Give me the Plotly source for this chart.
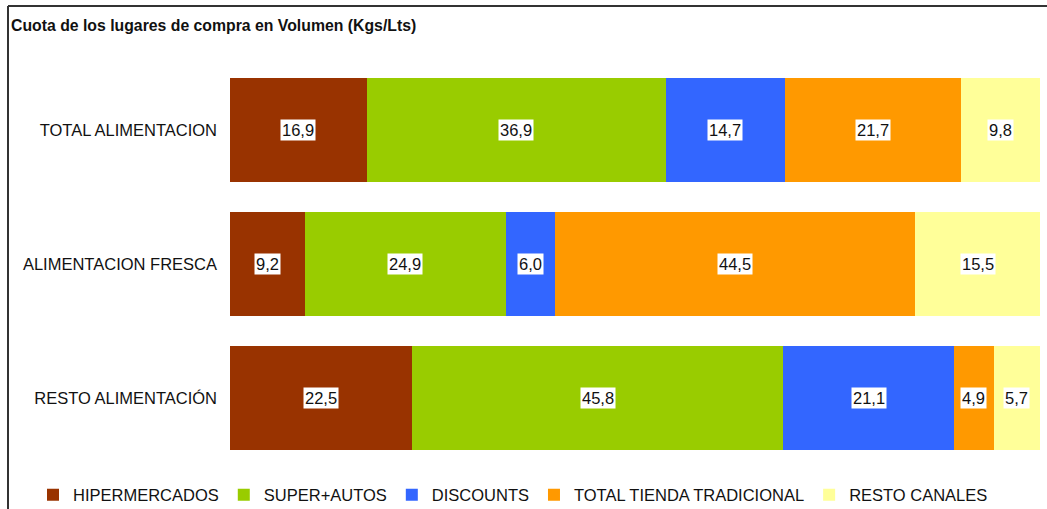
import plotly.graph_objects as go

categories = ["TOTAL ALIMENTACION", "ALIMENTACION FRESCA", "RESTO ALIMENTACIÓN"]
series_names = ["HIPERMERCADOS", "SUPER+AUTOS", "DISCOUNTS", "TOTAL TIENDA TRADICIONAL", "RESTO CANALES"]
hiper = [16.9, 9.2, 22.5]
super_autos = [36.9, 24.9, 45.8]
discounts = [14.7, 6.0, 21.1]
tradicional = [21.7, 44.5, 4.9]
resto = [9.8, 15.5, 5.7]
colors = ["#993300", "#99CC00", "#3366FF", "#FF9900", "#FFFF99"]

series = [hiper, super_autos, discounts, tradicional, resto]

W, H = 1047, 509
L, R, T, B = 230, 7, 63, 44
pw = W - L - R
ph = H - T - B
FONT = "Liberation Sans, Arial"

def px_x(px):
    return (px - L) / pw

def px_y(py):
    return (H - B - py) / ph

fig = go.Figure()
for name, vals, col in zip(series_names, series, colors):
    fig.add_trace(go.Bar(
        y=categories, x=vals, name=name, orientation="h",
        marker=dict(color=col, line=dict(width=0)),
        hoverinfo="x+name",
    ))

annotations = []
cum = [0.0] * len(categories)
for vals in series:
    for i, v in enumerate(vals):
        annotations.append(dict(
            x=cum[i] + v / 2, y=categories[i], xref="x", yref="y",
            text=f"{v:.1f}".replace(".", ","), showarrow=False,
            font=dict(family=FONT, size=16.5, color="#111111"),
            bgcolor="white", borderpad=1,
        ))
        cum[i] += v

shapes = [
    dict(type="line", xref="paper", yref="paper", x0=px_x(8), x1=px_x(1050),
         y0=px_y(6), y1=px_y(6), line=dict(color="#333333", width=2)),
    dict(type="line", xref="paper", yref="paper", x0=px_x(8), x1=px_x(8),
         y0=px_y(6), y1=px_y(512), line=dict(color="#333333", width=2)),
]

fig.update_layout(
    width=W, height=H,
    barmode="stack", bargap=0.224,
    margin=dict(l=L, r=R, t=T, b=B, autoexpand=False),
    paper_bgcolor="white", plot_bgcolor="white",
    font=dict(family=FONT, size=16.5, color="#111111"),
    title=dict(text="<b>Cuota de los lugares de compra en Volumen (Kgs/Lts)</b>",
               x=11 / W, xanchor="left", xref="container",
               y=1 - 25 / H, yanchor="middle", yref="container",
               font=dict(family=FONT, size=15.8, color="#111111")),
    xaxis=dict(range=[0, 100], visible=False, fixedrange=True),
    yaxis=dict(categoryorder="array", categoryarray=categories,
               autorange=False, range=[len(categories) - 0.5, -0.5],
               showgrid=False, showline=False, ticks="", ticklabelstandoff=12,
               tickfont=dict(size=16.5, color="#111111")),
    legend=dict(orientation="h", x=px_x(33), xanchor="left", xref="paper",
                y=px_y(495), yanchor="middle", yref="paper",
                traceorder="normal",
                font=dict(size=16.5, color="#111111"), itemwidth=30,
                bgcolor="rgba(0,0,0,0)"),
    annotations=annotations,
    shapes=shapes,
)

fig.write_html("out.html")
